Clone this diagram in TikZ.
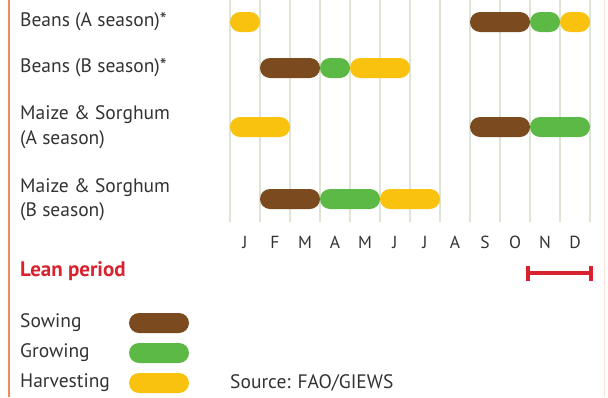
\documentclass[tikz,border=0pt]{standalone}
\usepackage{fontspec}
\setmainfont{PT Sans}
\definecolor{sowcol}{HTML}{7B4A1E}
\definecolor{growcol}{HTML}{5DB946}
\definecolor{harvcol}{HTML}{F9C20E}
\definecolor{leancol}{HTML}{D8232F}
\definecolor{gridcol}{HTML}{DCE5D6}
\definecolor{textcol}{HTML}{333333}
\definecolor{edgecol}{HTML}{EE8B5B}
\tikzset{
  cropname/.style={anchor=west, inner sep=0pt, align=left, text=textcol,
    font=\fontsize{19.5}{24.5}\selectfont},
  month/.style={inner sep=0pt, text=textcol, font=\fontsize{17.5}{18}\selectfont},
  gridline/.style={gridcol, line width=2pt},
  sowing/.style={fill=sowcol, rounded corners=10pt},
  growing/.style={fill=growcol, rounded corners=10pt},
  harvesting/.style={fill=harvcol, rounded corners=10pt},
  leanbar/.style={leancol, line width=3.5pt},
}
\begin{document}
\begin{tikzpicture}[x=1pt,y=-1pt]
\useasboundingbox (0,0) rectangle (608,397);
\draw[edgecol, line width=2.5pt] (9,0) -- (9,397);
\draw[edgecol!25, line width=1pt] (604,0) -- (604,397);

% month grid
\foreach \m [count=\i from 0] in {J,F,M,A,M,J,J,A,S,O,N,D} {
  \draw[gridline] (230+30*\i,0) -- (230+30*\i,222);
  \node[month] (m\i) at (245+30*\i,242) {\m};
}
\draw[gridline] (590,0) -- (590,222);

% crop names
\node[cropname] (beansA) at (20,22) {Beans (A season)*};
\node[cropname] (beansB) at (20,68) {Beans (B season)*};
\node[cropname] (maizeA) at (20,127) {Maize \& Sorghum\\(A season)};
\node[cropname] (maizeB) at (20,199.5) {Maize \& Sorghum\\(B season)};

% beans A
\fill[harvesting] (230,12) rectangle (260,32);
\fill[sowing] (470,12) rectangle (530,32);
\fill[growing] (530,12) rectangle (560,32);
\fill[harvesting] (560,12) rectangle (590,32);
% beans B
\fill[sowing] (260,58) rectangle (320,78);
\fill[growing] (320,58) rectangle (350,78);
\fill[harvesting] (350,58) rectangle (410,78);
% maize A
\fill[harvesting] (230,117) rectangle (290,137);
\fill[sowing] (470,117) rectangle (530,137);
\fill[growing] (530,117) rectangle (590,137);
% maize B
\fill[sowing] (260,189) rectangle (320,209);
\fill[growing] (320,189) rectangle (380,209);
\fill[harvesting] (380,189) rectangle (440,209);

% lean period
\node[cropname, text=leancol, font=\fontsize{21}{24}\bfseries] (lean) at (20,271) {Lean period};
\coordinate (leanstart) at (528,273);
\coordinate (leanend) at (591,273);
\draw[leanbar] (leanstart) -- (leanend);
\draw[leanbar] ([yshift=-7.5pt]leanstart) -- ([yshift=7.5pt]leanstart);
\draw[leanbar] ([yshift=-7.5pt]leanend) -- ([yshift=7.5pt]leanend);

% legend
\node[cropname] (sow) at (20,323) {Sowing};
\node[cropname] (grow) at (20,353) {Growing};
\node[cropname] (harv) at (20,383) {Harvesting};
\fill[sowing] (129,313) rectangle (189,333);
\fill[growing] (129,343) rectangle (189,363);
\fill[harvesting] (129,373) rectangle (189,393);
\node[cropname] (source) at (230,383) {Source: FAO/GIEWS};
\end{tikzpicture}
\end{document}
